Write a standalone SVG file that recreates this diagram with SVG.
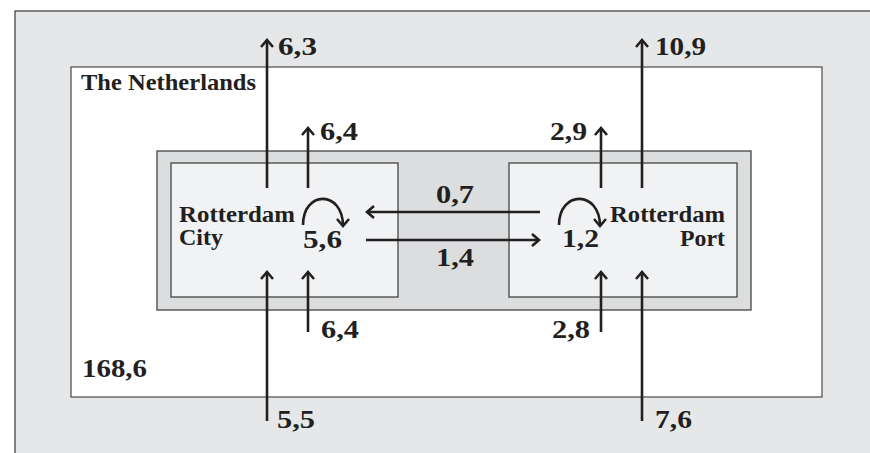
<svg xmlns="http://www.w3.org/2000/svg" width="870" height="453" viewBox="0 0 870 453">
<defs>
<marker id="ah" viewBox="-10 -8 12 16" markerWidth="12" markerHeight="16" refX="0" refY="0" orient="auto" markerUnits="userSpaceOnUse">
<path d="M-7,-6 L0,0 L-7,6" fill="none" stroke="#231f20" stroke-width="2.6"/>
</marker>
<style>
.t{font-family:"Liberation Serif","Times New Roman",serif;font-weight:bold;fill:#231f20;font-size:23px}
.n{font-family:"Liberation Serif","Times New Roman",serif;font-weight:bold;fill:#231f20;font-size:26px}
.c{fill:none;stroke:#231f20;stroke-width:2.6}
.a{marker-end:url(#ah)}
</style>
</defs>
<g id="background">
<rect x="15" y="11" width="870" height="460" fill="#e6e7e8" stroke="#444" stroke-width="1.3"/>
</g>
<g id="netherlands">
<rect x="71" y="67" width="751" height="330" fill="#ffffff" stroke="#555" stroke-width="1.3"/>
<text class="t" x="81" y="90" font-size="21" textLength="175" lengthAdjust="spacingAndGlyphs">The Netherlands</text>
<text class="n" x="82" y="377" textLength="65" lengthAdjust="spacingAndGlyphs">168,6</text>
</g>
<g id="rotterdam">
<rect x="157" y="151" width="594" height="159" fill="#dcdddf" stroke="#444" stroke-width="1.3"/>
</g>
<g id="city">
<rect x="171" y="163" width="227" height="134" fill="#f1f2f4" stroke="#444" stroke-width="1.3"/>
<text class="t" x="179" y="222" textLength="116" lengthAdjust="spacingAndGlyphs">Rotterdam</text>
<text class="t" x="179" y="245" textLength="44" lengthAdjust="spacingAndGlyphs">City</text>
<text class="n" x="303" y="248" textLength="39" lengthAdjust="spacingAndGlyphs">5,6</text>
</g>
<g id="port">
<rect x="509" y="163" width="228" height="134" fill="#f1f2f4" stroke="#444" stroke-width="1.3"/>
<text class="t" x="610" y="222" textLength="115" lengthAdjust="spacingAndGlyphs">Rotterdam</text>
<text class="t" x="680" y="246" textLength="45" lengthAdjust="spacingAndGlyphs">Port</text>
<text class="n" x="562" y="247" textLength="37" lengthAdjust="spacingAndGlyphs">1,2</text>
</g>
<g id="connectors">
<path class="c a" d="M267,188 V40"/>
<path class="c a" d="M308,188 V128"/>
<path class="c a" d="M267,421 V272"/>
<path class="c a" d="M308,332 V272"/>
<path class="c a" d="M601,188 V128"/>
<path class="c a" d="M642,188 V40"/>
<path class="c a" d="M601,332 V272"/>
<path class="c a" d="M642,421 V272"/>
<path class="c a" d="M540,212 H367"/>
<path class="c a" d="M366,240 H539"/>
<path class="c a" d="M303,225 C303,190 343,190 343,226"/>
<path class="c a" d="M559,225 C559,190 600,190 600,226"/>
</g>
<g id="labels">
<text class="n" x="278" y="55" textLength="39" lengthAdjust="spacingAndGlyphs">6,3</text>
<text class="n" x="655" y="55" textLength="51" lengthAdjust="spacingAndGlyphs">10,9</text>
<text class="n" x="320" y="140" textLength="38" lengthAdjust="spacingAndGlyphs">6,4</text>
<text class="n" x="550" y="140" textLength="37" lengthAdjust="spacingAndGlyphs">2,9</text>
<text class="n" x="321" y="338" textLength="38" lengthAdjust="spacingAndGlyphs">6,4</text>
<text class="n" x="552" y="338" textLength="38" lengthAdjust="spacingAndGlyphs">2,8</text>
<text class="n" x="277" y="428" textLength="38" lengthAdjust="spacingAndGlyphs">5,5</text>
<text class="n" x="655" y="428" textLength="37" lengthAdjust="spacingAndGlyphs">7,6</text>
<text class="n" x="436" y="203" textLength="38" lengthAdjust="spacingAndGlyphs">0,7</text>
<text class="n" x="436" y="266" textLength="38" lengthAdjust="spacingAndGlyphs">1,4</text>
</g>
</svg>
